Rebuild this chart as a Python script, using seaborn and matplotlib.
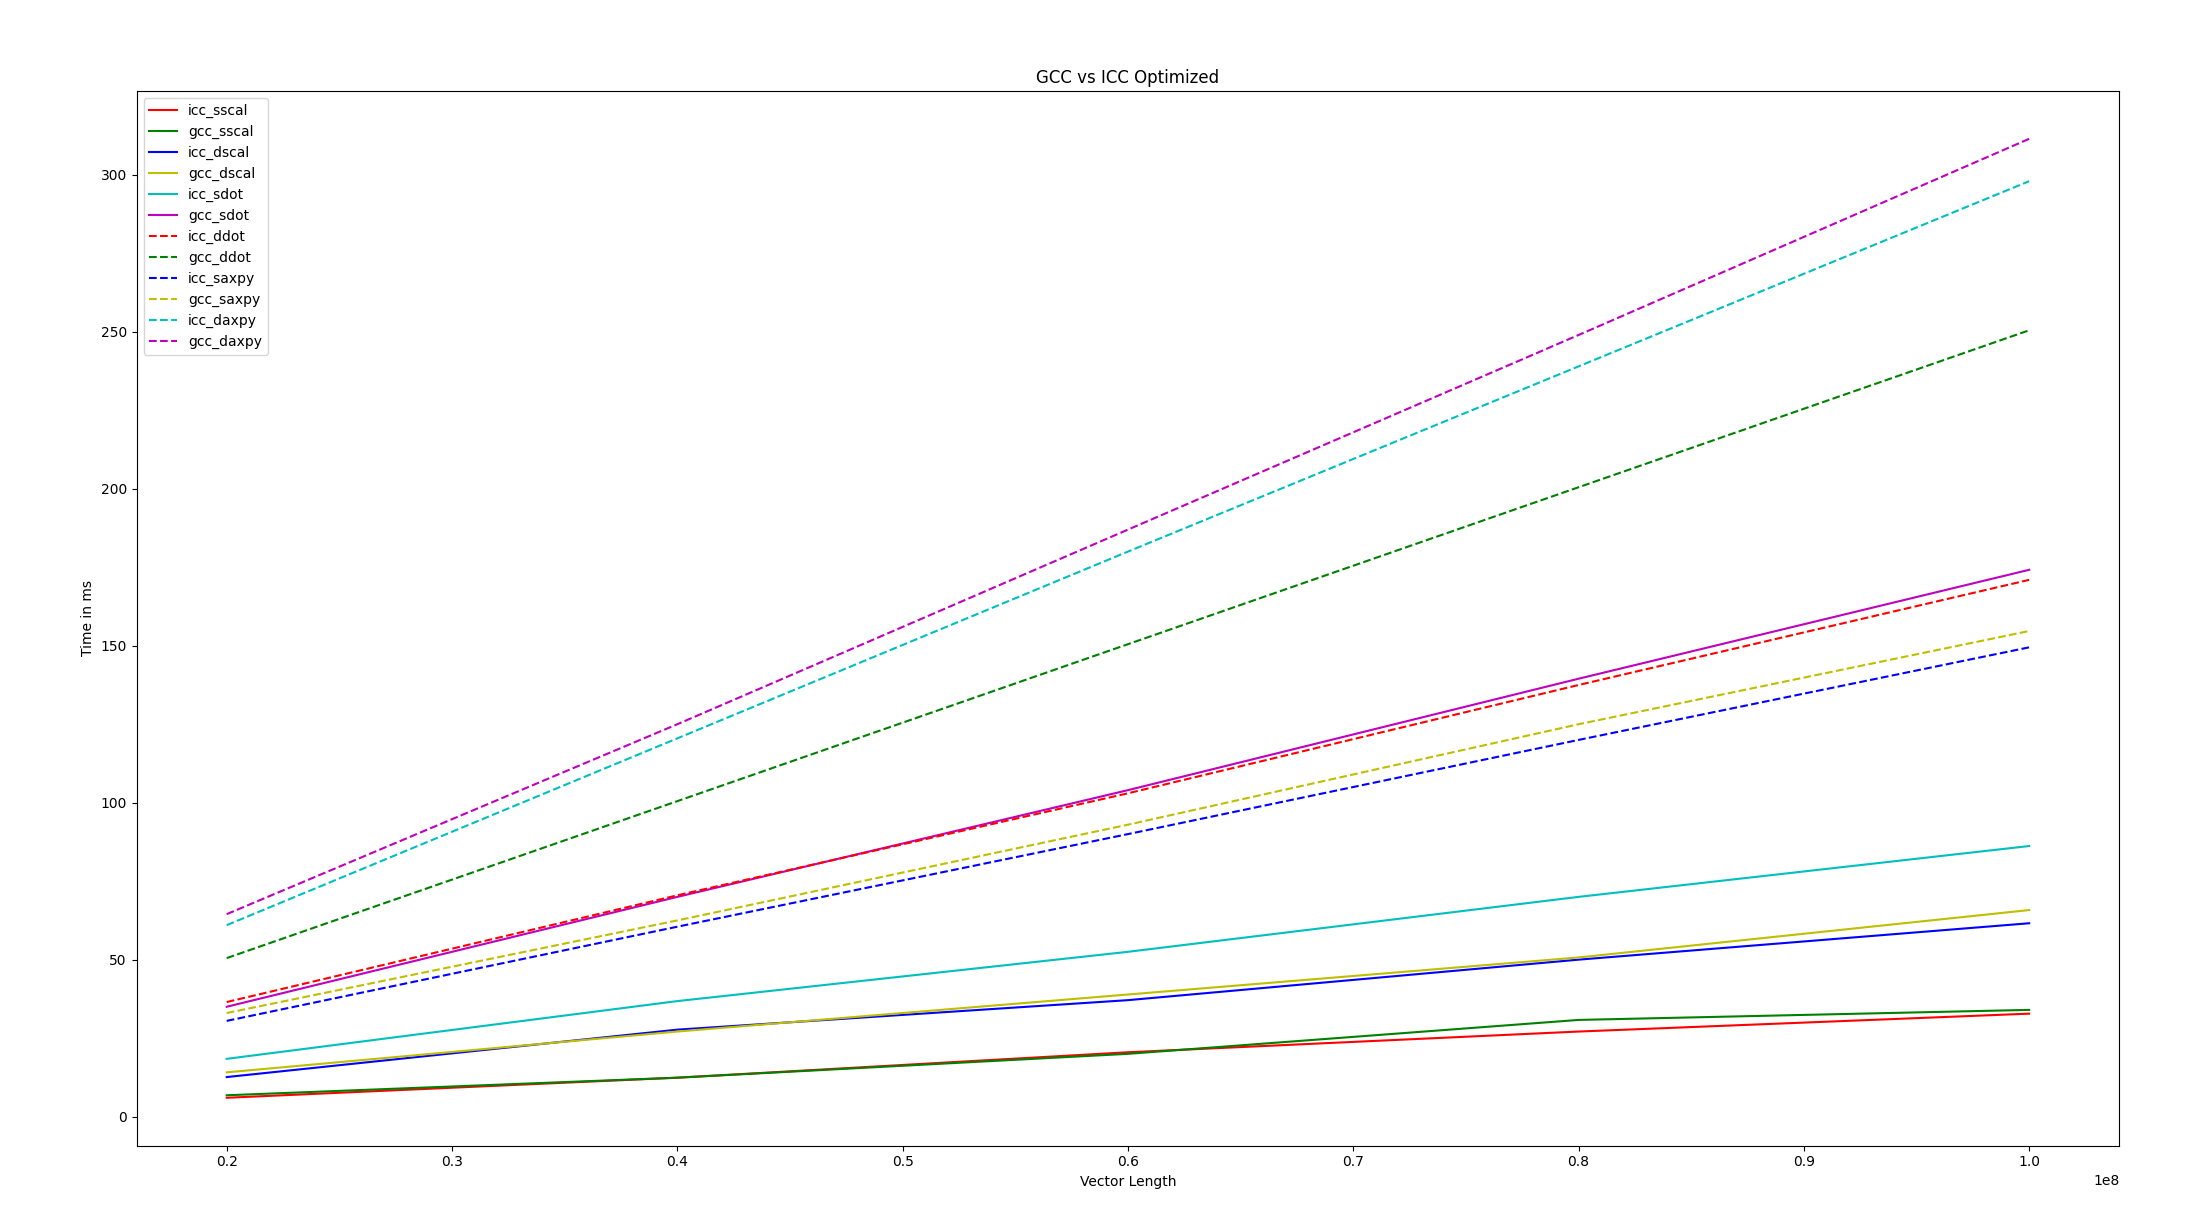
import matplotlib
matplotlib.use("Agg")
import matplotlib.pyplot as plt
import seaborn as sns
import numpy as np

vector_length = [2e7, 4e7, 6e7, 8e7, 1e8]

icc_sscal = [6.0, 12.4, 20.5, 27.1, 32.8]
gcc_sscal = [6.8, 12.4, 20.0, 30.8, 34.0]
icc_dscal = [12.6, 27.7, 37.1, 50.0, 61.6]
gcc_dscal = [14.1, 27.1, 38.9, 50.7, 65.8]
icc_sdot = [18.4, 36.8, 52.5, 70.0, 86.2]
gcc_sdot = [35.0, 70.0, 104.0, 139.5, 174.2]
icc_ddot = [36.5, 70.5, 103.0, 137.5, 171.0]
gcc_ddot = [50.5, 100.5, 150.5, 200.5, 250.5]
icc_saxpy = [30.5, 60.5, 90.0, 120.0, 149.5]
gcc_saxpy = [33.0, 62.5, 93.0, 125.0, 154.7]
icc_daxpy = [61.0, 120.5, 180.0, 239.0, 298.0]
gcc_daxpy = [64.5, 125.0, 187.0, 249.0, 311.5]

series_names = ["icc_sscal", "gcc_sscal", "icc_dscal", "gcc_dscal", "icc_sdot", "gcc_sdot",
                "icc_ddot", "gcc_ddot", "icc_saxpy", "gcc_saxpy", "icc_daxpy", "gcc_daxpy"]
series_values = [icc_sscal, gcc_sscal, icc_dscal, gcc_dscal, icc_sdot, gcc_sdot,
                 icc_ddot, gcc_ddot, icc_saxpy, gcc_saxpy, icc_daxpy, gcc_daxpy]
colors = ["r", "g", "b", "y", "c", "m"] * 2
styles = ["-"] * 6 + ["--"] * 6

fig, ax = plt.subplots(figsize=(22.03, 12.28), dpi=100)
fig.subplots_adjust(left=0.062, right=0.962, top=0.926, bottom=0.067)

for name, vals, c, ls in zip(series_names, series_values, colors, styles):
    sns.lineplot(x=vector_length, y=vals, color=c, linestyle=ls, label=name, ax=ax,
                 linewidth=1.5)

ax.set_title("GCC vs ICC Optimized")
ax.set_xlabel("Vector Length")
ax.set_ylabel("Time in ms")
ax.legend(loc="upper left")

fig.savefig("out.png", dpi=100)
